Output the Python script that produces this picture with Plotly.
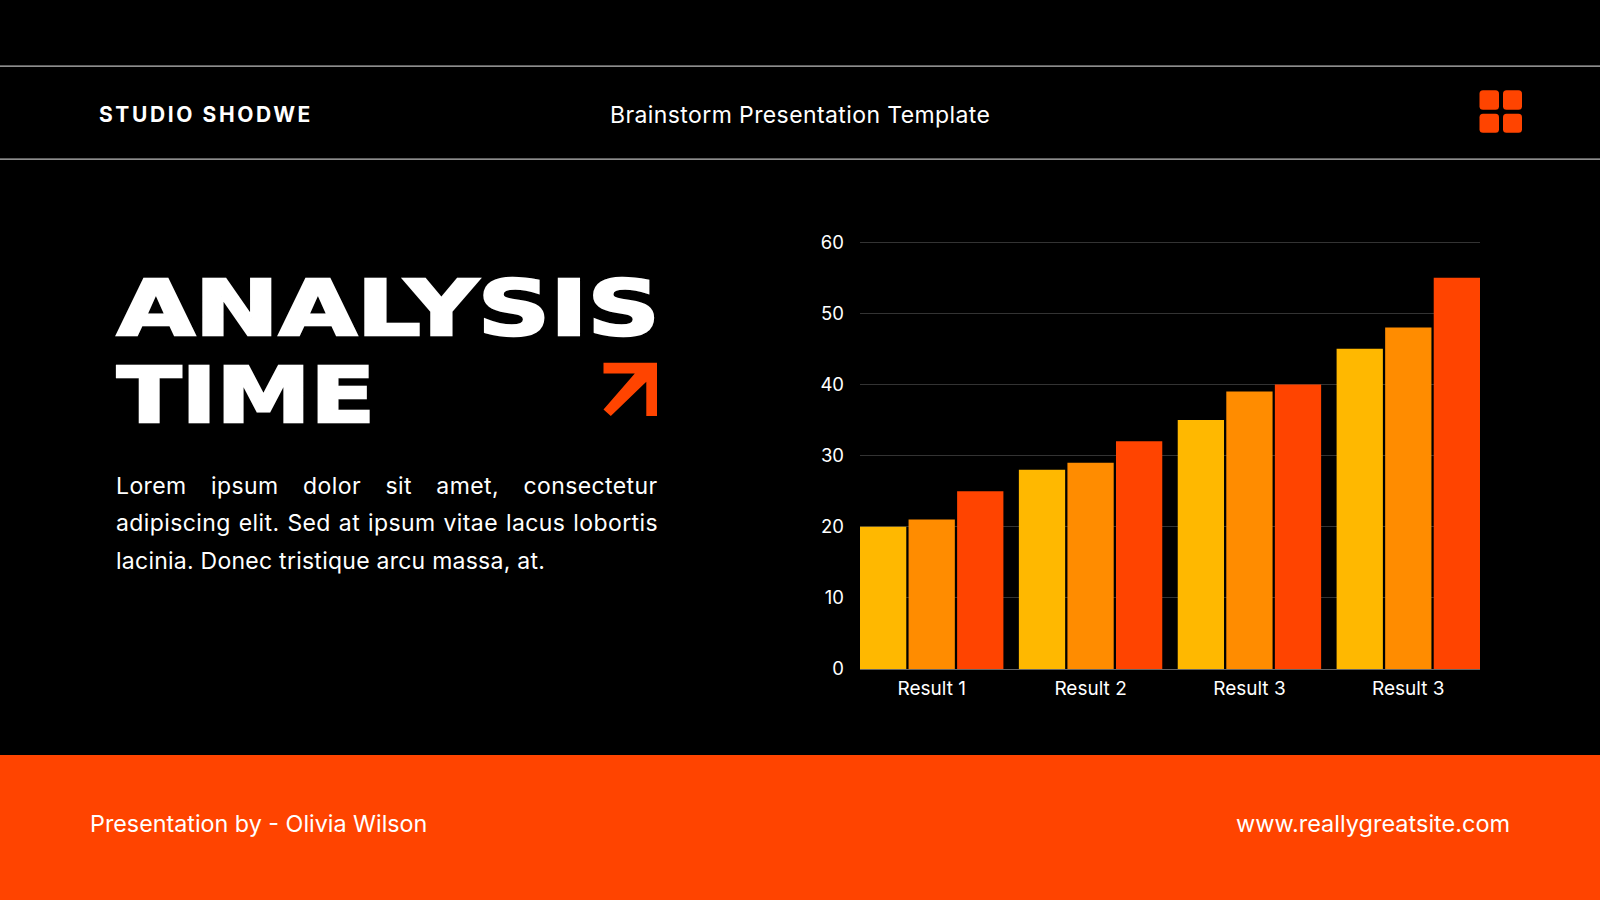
import plotly.graph_objects as go

categories = ["Result 1", "Result 2", "Result 3", "Result 3"]
series_a = [20, 28, 35, 45]
series_b = [21, 29, 39, 48]
series_c = [25, 32, 40, 55]
series_names = ["Series 1", "Series 2", "Series 3"]
y_ticks = [0, 10, 20, 30, 40, 50, 60]

BLACK = "#000000"
ORANGE = "#FF4400"
COLORS = ["#FFB800", "#FF8C00", "#FF4400"]
SANS = "Inter, Roboto, sans-serif"

Y_MAX = 60.3
L, R, B = 860, 1480, 669
T = B - 427 / 60 * Y_MAX
W, H = 1600, 900
px = lambda x: (x - L) / (R - L)
py = lambda y: (B - y) / (B - T)
positions = list(range(len(categories)))

fig = go.Figure()
for name, vals, col in zip(series_names, [series_a, series_b, series_c], COLORS):
    fig.add_bar(x=positions, y=vals, name=name, marker=dict(color=col, line_width=0))


def note(text, x, y, size, anchor="left", family=SANS, color="#FFFFFF", style=""):
    if style:
        text = f'<span style="{style}">{text}</span>'
    fig.add_annotation(text=text, x=px(x), y=py(y), xref="paper", yref="paper",
                       xanchor=anchor, yanchor="middle", showarrow=False,
                       align=anchor, borderpad=0,
                       font=dict(family=family, size=size, color=color))


def rect_path(x0, y0, x1, y1, r):
    X0, X1, Y0, Y1 = px(x0), px(x1), py(y0), py(y1)
    rx, ry = r / (R - L), r / (B - T)
    return (f"M{X0+rx},{Y0} L{X1-rx},{Y0} Q{X1},{Y0} {X1},{Y0-ry} L{X1},{Y1+ry} Q{X1},{Y1} {X1-rx},{Y1} "
            f"L{X0+rx},{Y1} Q{X0},{Y1} {X0},{Y1+ry} L{X0},{Y0-ry} Q{X0},{Y0} {X0+rx},{Y0} Z")


shapes = []
for y in (66, 159):
    shapes.append(dict(type="line", xref="paper", yref="paper", x0=px(0), x1=px(W), y0=py(y), y1=py(y),
                       line=dict(color="#BDBDBD", width=1.3), layer="below"))
shapes.append(dict(type="rect", xref="paper", yref="paper", x0=px(0), x1=px(W), y0=py(755), y1=py(H),
                   fillcolor=ORANGE, line_width=0, layer="below"))
for x0, x1 in ((1479.5, 1499), (1503, 1522)):
    for y0, y1 in ((90, 109.5), (113.5, 132.5)):
        shapes.append(dict(type="path", xref="paper", yref="paper", path=rect_path(x0, y0, x1, y1, 3.5),
                           fillcolor=ORANGE, line_width=0, layer="below"))
arrow_pts = [(603.5, 362.7), (657, 362.7), (657, 416), (646.3, 416), (646.3, 381.7),
             (610.8, 416), (603.5, 409.3), (634.8, 373.3), (603.5, 373.3)]
arrow = "M" + " L".join(f"{px(a)},{py(b)}" for a, b in arrow_pts) + " Z"
shapes.append(dict(type="path", xref="paper", yref="paper", path=arrow, fillcolor=ORANGE, line_width=0, layer="below"))

HEAVY = "DejaVu Sans"
heavy_style = "font-weight:700;stroke:#FFFFFF;stroke-width:2.5px;stroke-linejoin:miter"
note("ANALYSIS", 116, 308.5, 76, family=HEAVY, style=heavy_style)
note("TIME", 116, 395.5, 76, family=HEAVY, style=heavy_style)
note("STUDIO SHODWE", 98, 114, 21, style="font-weight:700;letter-spacing:2.6px")
note("Brainstorm Presentation Template", 800, 115, 23, anchor="center", style="letter-spacing:0.4px")
note("Lorem ipsum dolor sit amet, consectetur", 115, 486, 23, style="letter-spacing:0.4px;word-spacing:17.6px")
note("adipiscing elit. Sed at ipsum vitae lacus lobortis", 115, 523, 23, style="letter-spacing:0.4px;word-spacing:1.1px")
note("lacinia. Donec tristique arcu massa, at.", 115, 561, 23, style="letter-spacing:0.25px")
note("Presentation by - Olivia Wilson", 89, 824, 23.3)
note("www.reallygreatsite.com", 1510.5, 824, 23.5, anchor="right")

fig.update_layout(
    width=W, height=H, autosize=False,
    margin=dict(l=L, r=W - R, t=T, b=H - B, pad=0),
    paper_bgcolor=BLACK, plot_bgcolor=BLACK,
    barmode="group", bargap=0.083, bargroupgap=0.047,
    showlegend=False, shapes=shapes,
    font=dict(family=SANS, color="#FFFFFF", size=18),
    xaxis=dict(tickmode="array", tickvals=positions, ticktext=categories,
               range=[-0.4513, 3.4513], showgrid=False, zeroline=False, showline=True,
               linecolor="#666666", linewidth=1, ticks="", ticklabelstandoff=2,
               tickfont=dict(family=SANS, size=19, color="#FFFFFF")),
    yaxis=dict(tickmode="array", tickvals=y_ticks, range=[0, Y_MAX], showgrid=True,
               gridcolor="#333333", gridwidth=1, zeroline=False, showline=False, ticks="",
               ticklabelstandoff=15, tickfont=dict(family=SANS, size=18.5, color="#FFFFFF")),
)
stretch = """
document.body.style.margin='0';
var targets={'ANALYSIS':543,'TIME':258};
document.querySelectorAll('.annotation-text').forEach(function(t){
  var w=targets[t.textContent];
  if(w){t.setAttribute('textLength',w);t.setAttribute('lengthAdjust','spacingAndGlyphs');}
});
"""
fig.write_html("out.html", post_script=stretch, config={"displayModeBar": False})
